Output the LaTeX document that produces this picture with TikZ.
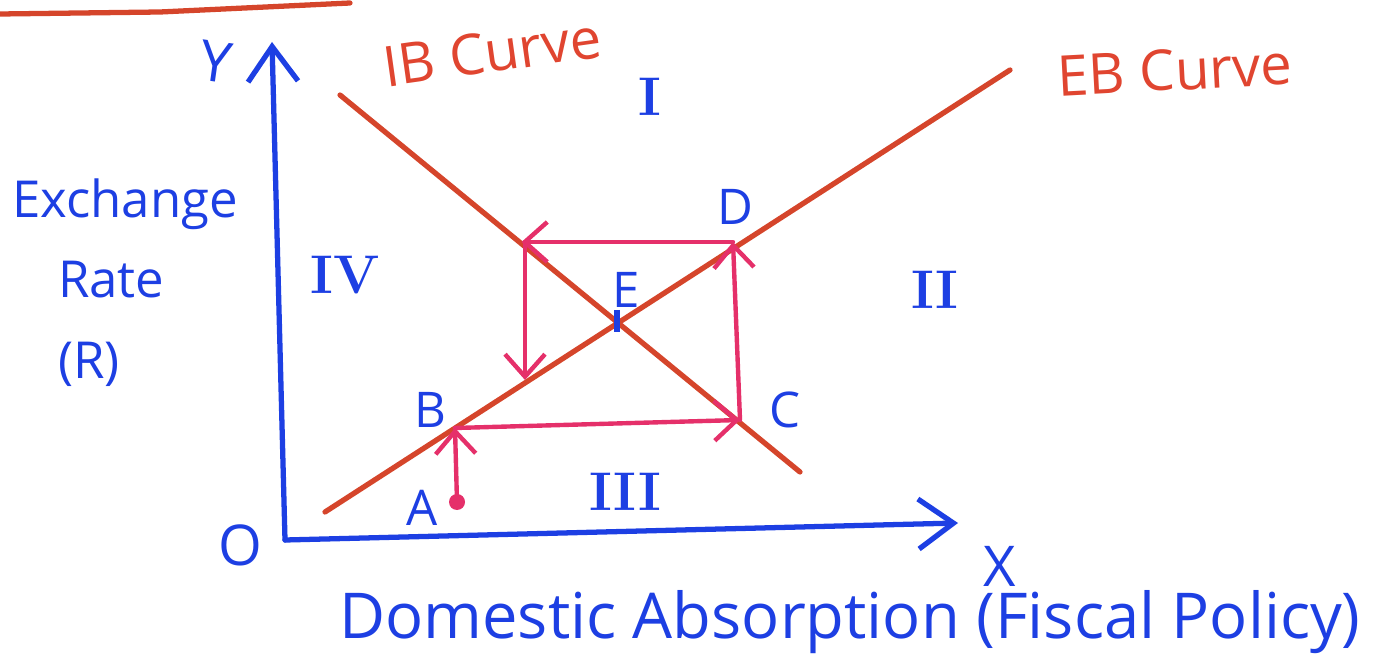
\documentclass[tikz,border=0pt]{standalone}
\usepackage{fontspec}
\usepackage{xcolor}
\usepackage{tikz}
\usetikzlibrary{arrows.meta}
\newfontfamily\handfont{Open Sans}
\definecolor{absInk}{HTML}{1D3FE3}
\definecolor{absCurve}{HTML}{D5452B}
\definecolor{absPath}{HTML}{E5306A}
\definecolor{absCurveText}{HTML}{E04530}
\tikzset{
  absaxis/.style={draw=absInk,line width=3pt,line cap=round,
                  -{Straight Barb[length=7mm,width=10mm]}},
  abscurve/.style={draw=absCurve,line width=3pt,line cap=round},
  absflow/.style={draw=absPath,line width=2.5pt,line cap=round,
                  -{Straight Barb[length=4.5mm,width=8mm]}},
  abslbl/.style={inner sep=0pt,text=absInk,font=\handfont\fontsize{28}{34}\selectfont},
  absbig/.style={abslbl,font=\handfont\fontsize{32}{48}\selectfont},
  abscurvelbl/.style={inner sep=0pt,text=absCurveText,font=\handfont\fontsize{32}{38}\selectfont},
  absregion/.style={inner sep=0pt,text=absInk,font=\bfseries\fontsize{31}{36}\selectfont},
}
\begin{document}
\begin{tikzpicture}[x=0.02cm,y=-0.02cm]
  \useasboundingbox (0,0) rectangle (1373,665);

  % Leftover underline of the heading.
  \draw[draw=absCurve,line width=3pt,line cap=round] (0,14) -- (160,12) -- (350,3);

  % Axes.
  \coordinate (O) at (285,540);
  \coordinate (Ytop) at (272,42);
  \coordinate (Xend) at (958,523);
  \draw[absaxis] (O) -- (Ytop);
  \draw[absaxis] (O) -- (Xend);
  \node[absbig] (o) at (240,545) {O};
  \node[absbig,rotate=-8] (y) at (216,62) {Y};
  \node[absbig] (x) at (1000,566) {X};
  \node[abslbl,font=\handfont\fontsize{29}{46}\selectfont,align=left,anchor=north west]
       (ylbl) at (12,178) {Exchange\\\hspace*{26pt}Rate\\\hspace*{26pt}(R)};
  \node[absbig,font=\handfont\fontsize{36}{44}\selectfont] (xlbl) at (850,622)
       {Domestic Absorption (Fiscal Policy)};

  % IB and EB curves.
  \coordinate (IBa) at (340,95);
  \coordinate (IBb) at (800,472);
  \coordinate (EBa) at (325,512);
  \coordinate (EBb) at (1010,70);
  \draw[abscurve] (IBa) -- (IBb);
  \draw[abscurve] (EBa) -- (EBb);
  \node[abscurvelbl,rotate=8] (ibl) at (492,52) {IB Curve};
  \node[abscurvelbl,rotate=3] (ebl) at (1175,70) {EB Curve};

  % Regions.
  \node[absregion] (r1) at (650,97) {I};
  \node[absregion] (r2) at (935,290) {II};
  \node[absregion] (r3) at (625,492) {III};
  \node[absregion] (r4) at (345,275) {IV};

  % Points on the adjustment path.
  \coordinate (A) at (457,502);
  \coordinate (B) at (455,428);
  \coordinate (C) at (740,420);
  \coordinate (D) at (733,242);
  \coordinate (F) at (525,242);
  \coordinate (G) at (525,380);
  \coordinate (E) at (617,322);
  \fill[absPath] (A) circle (8);
  \draw[draw=absInk,line width=3.5pt] (617,310) -- (617,332);
  \node[abslbl] (a) at (422,508) {A};
  \node[abslbl] (b) at (430,410) {B};
  \node[abslbl] (c) at (785,410) {C};
  \node[abslbl] (d) at (735,207) {D};
  \node[abslbl] (e) at (626,290) {E};

  \draw[absflow] (A) -- (B);
  \draw[absflow] (B) -- (C);
  \draw[absflow] (C) -- (D);
  \draw[absflow,shorten >=-2pt] (D) -- (F);
  \draw[absflow] (F) -- (G);
\end{tikzpicture}
\end{document}
